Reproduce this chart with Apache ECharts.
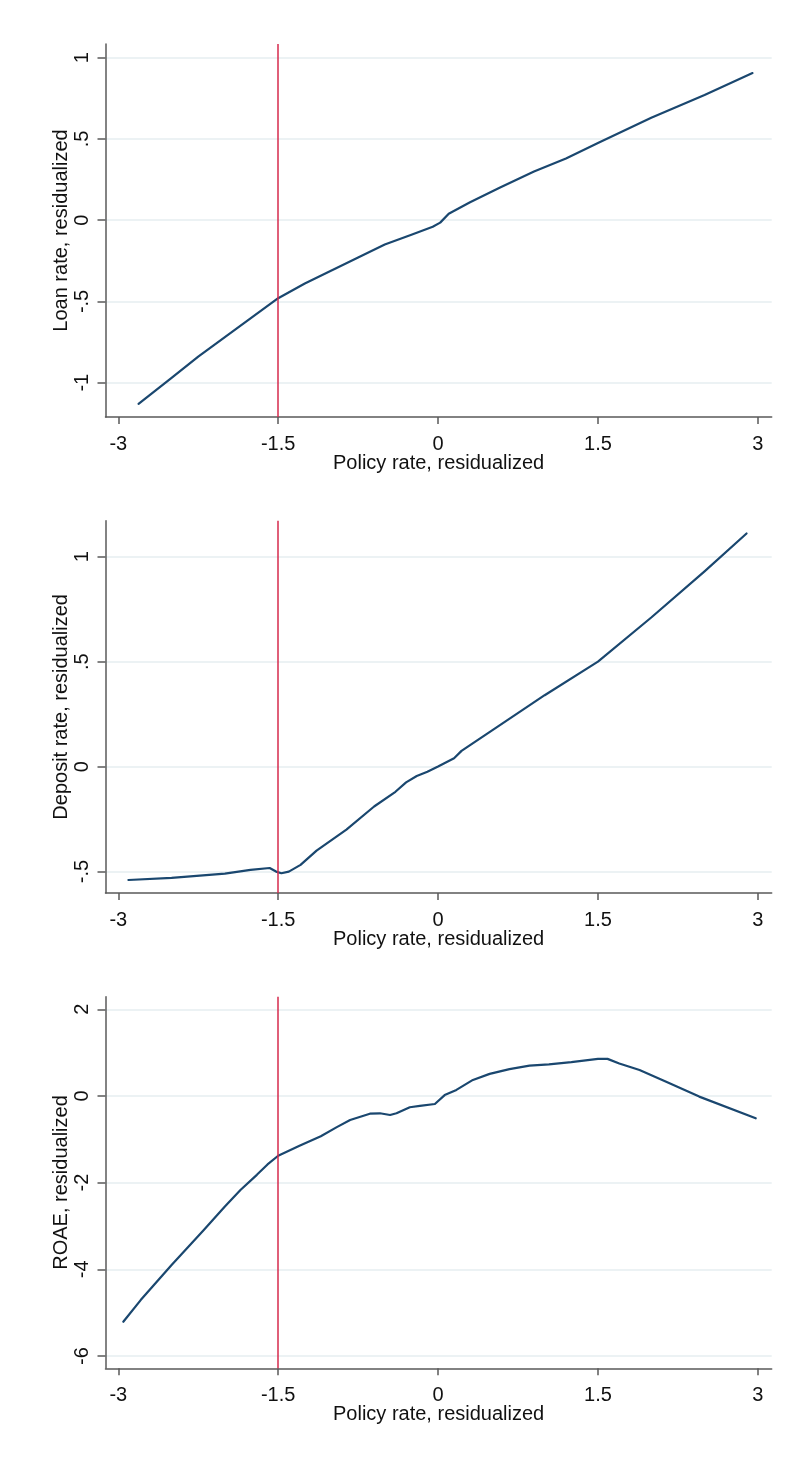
<!DOCTYPE html>
<html>
<head>
<meta charset="utf-8">
<script src="https://cdn.jsdelivr.net/npm/echarts@6/dist/echarts.min.js"></script>
<style>
html,body{margin:0;padding:0;background:#fff;}
#chart{width:799px;height:1465px;}
</style>
</head>
<body>
<div id="chart"></div>
<script>
// ---- Data ----
const xTicks = [-3, -1.5, 0, 1.5, 3];
const xTickLabels = ['-3', '-1.5', '0', '1.5', '3'];
const xName = 'Policy rate, residualized';
const cutoff = -1.5;

const loanTicks = [-1, -0.5, 0, 0.5, 1];
const loanTickLabels = ['-1', '-.5', '0', '.5', '1'];
const loanName = 'Loan rate, residualized';
const loanX = [-2.81, -2.5, -2.25, -2.0, -1.75, -1.5, -1.25, -1.0, -0.75, -0.5, -0.25, -0.05, 0.02, 0.1, 0.3, 0.577, 0.9, 1.2, 1.5, 2.0, 2.5, 2.95];
const loanY = [-1.13, -0.97, -0.84, -0.72, -0.60, -0.48, -0.39, -0.31, -0.23, -0.15, -0.09, -0.04, -0.015, 0.04, 0.11, 0.20, 0.30, 0.38, 0.475, 0.63, 0.77, 0.905];

const depTicks = [-0.5, 0, 0.5, 1];
const depTickLabels = ['-.5', '0', '.5', '1'];
const depName = 'Deposit rate, residualized';
const depX = [-2.905, -2.5, -2.0, -1.76, -1.58, -1.52, -1.47, -1.4, -1.29, -1.14, -0.86, -0.6, -0.4, -0.3, -0.2, -0.1, 0.0, 0.15, 0.22, 0.5, 1.0, 1.5, 2.0, 2.5, 2.894];
const depY = [-0.54, -0.53, -0.51, -0.492, -0.483, -0.50, -0.508, -0.50, -0.468, -0.40, -0.30, -0.19, -0.12, -0.075, -0.045, -0.025, 0.0, 0.04, 0.075, 0.17, 0.34, 0.50, 0.71, 0.93, 1.11];

const roaeTicks = [-6, -4, -2, 0, 2];
const roaeTickLabels = ['-6', '-4', '-2', '0', '2'];
const roaeName = 'ROAE, residualized';
const roaeX = [-2.953, -2.79, -2.5, -2.2, -2.0, -1.854, -1.7, -1.6, -1.5, -1.3, -1.1, -0.95, -0.825, -0.64, -0.546, -0.45, -0.39, -0.265, -0.171, -0.03, 0.062, 0.172, 0.327, 0.484, 0.67, 0.858, 1.04, 1.25, 1.50, 1.59, 1.70, 1.89, 2.14, 2.45, 2.98];
const roaeY = [-5.21, -4.71, -3.90, -3.10, -2.55, -2.17, -1.82, -1.58, -1.38, -1.15, -0.93, -0.72, -0.554, -0.41, -0.40, -0.44, -0.40, -0.26, -0.23, -0.185, 0.02, 0.14, 0.37, 0.51, 0.62, 0.70, 0.73, 0.78, 0.855, 0.855, 0.75, 0.60, 0.33, -0.015, -0.515];

// ---- Styling / layout ----
const FONT = "'Liberation Sans', Arial, sans-serif";
const LINE_COLOR = '#1a476f';
const RED = '#d62a4c';
const AXIS_COLOR = '#5a5a5a';
const GRID_COLOR = '#e6eef0';

const panels = [
  {top: 44, height: 373, ymin: -1.211, ymax: 1.084, ticks: loanTicks, labels: loanTickLabels, name: loanName, xs: loanX, ys: loanY},
  {top: 520.7, height: 372.3, ymin: -0.602, ymax: 1.171, ticks: depTicks, labels: depTickLabels, name: depName, xs: depX, ys: depY},
  {top: 996.7, height: 371.6, ymin: -6.284, ymax: 2.29, ticks: roaeTicks, labels: roaeTickLabels, name: roaeName, xs: roaeX, ys: roaeY}
];

function labelFor(ticks, labels) {
  return function (v) {
    for (let i = 0; i < ticks.length; i++) {
      if (Math.abs(v - ticks[i]) < 1e-9) return labels[i];
    }
    return '';
  };
}

const grid = [], xAxis = [], yAxis = [], series = [];
panels.forEach((p, i) => {
  grid.push({left: 105.5, right: 27.3, top: p.top, height: p.height, containLabel: false});
  xAxis.push({
    type: 'value', gridIndex: i, min: -3.12, max: 3.13,
    name: xName, nameLocation: 'middle', nameGap: 36, nameMoveOverlap: false,
    nameTextStyle: {fontFamily: FONT, fontSize: 20, color: '#111'},
    axisLine: {show: true, onZero: false, lineStyle: {color: AXIS_COLOR, width: 1.5}},
    axisTick: {show: true, length: 7, customValues: xTicks, lineStyle: {color: AXIS_COLOR, width: 1.5}},
    axisLabel: {show: true, customValues: xTicks, margin: 17, fontFamily: FONT, fontSize: 20, color: '#111', formatter: labelFor(xTicks, xTickLabels)},
    splitLine: {show: false}
  });
  yAxis.push({
    type: 'value', gridIndex: i, min: p.ymin, max: p.ymax,
    name: p.name, nameLocation: 'middle', nameGap: 34, nameMoveOverlap: false,
    nameTextStyle: {fontFamily: FONT, fontSize: 20, color: '#111'},
    axisLine: {show: true, onZero: false, lineStyle: {color: AXIS_COLOR, width: 1.5}},
    axisTick: {show: true, length: 8, customValues: p.ticks, lineStyle: {color: AXIS_COLOR, width: 1.5}},
    axisLabel: {show: true, customValues: p.ticks, rotate: 90, margin: 13, fontFamily: FONT, fontSize: 20, color: '#111', formatter: labelFor(p.ticks, p.labels)},
    splitLine: {show: true, lineStyle: {color: GRID_COLOR, width: 1.5}}
  });
  series.push({
    type: 'line', xAxisIndex: i, yAxisIndex: i,
    data: p.xs.map((x, k) => [x, p.ys[k]]),
    showSymbol: false, smooth: false,
    lineStyle: {color: LINE_COLOR, width: 2.2, join: 'round', cap: 'round'},
    itemStyle: {color: LINE_COLOR},
    markLine: {
      silent: true, symbol: ['none', 'none'], label: {show: false},
      lineStyle: {color: RED, width: 1.5, type: 'solid'},
      data: [{xAxis: cutoff}]
    },
    z: 3
  });
});

const chart = echarts.init(document.getElementById('chart'), null, {renderer: 'canvas'});
chart.setOption({
  backgroundColor: '#ffffff',
  animation: false,
  grid, xAxis, yAxis, series
});
</script>
</body>
</html>
